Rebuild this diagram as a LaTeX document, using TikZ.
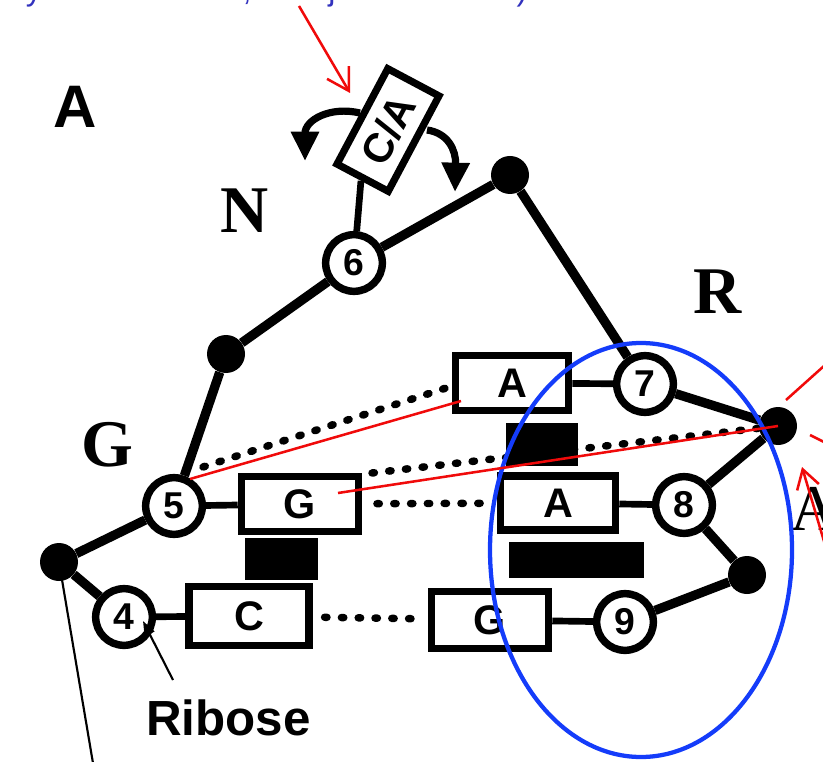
\documentclass[tikz,border=0pt]{standalone}
\usepackage{fontspec}
\setmainfont{Liberation Serif}
\setsansfont{Liberation Sans}
\usetikzlibrary{arrows.meta,calc}

\definecolor{annred}{RGB}{240,10,10}
\definecolor{annblue}{RGB}{20,60,250}
\definecolor{captionblue}{RGB}{50,50,190}

\newcommand{\fsz}[1]{\fontsize{#1}{#1}\selectfont}

\tikzset{
  backbone/.style={line width=7pt},
  linker/.style={line width=5pt},
  ribo/.style={circle, draw, line width=5.6pt, fill=white, minimum size=42.5pt,
    inner sep=0pt, font=\sffamily\bfseries\fsz{28}},
  junction/.style={circle, fill=black, minimum size=28.5pt, inner sep=0pt},
  basebox/.style={draw, line width=5.4pt, fill=white, inner sep=0pt,
    font=\sffamily\bfseries\fsz{31}},
  stackbar/.style={fill=black, inner sep=0pt, outer sep=0pt},
  hbond/.style={line width=5.6pt, line cap=round, dash pattern=on 1.8pt off 10.8pt},
  strandlabel/.style={font=\rmfamily\bfseries\fsz{50}, inner sep=0pt},
  curl/.style={line width=5.4pt, -{Triangle[length=22pt,width=20pt]}},
  redmark/.style={draw=annred, line width=1.9pt},
  bluemark/.style={draw=annblue, line width=3.2pt},
}

\begin{document}
\begin{tikzpicture}[x=0.75pt, y=-0.75pt]
  \useasboundingbox (0,0) rectangle (823,762);
  \clip (0,0) rectangle (823,762);

  % caption line above the panel (only its lower edge falls inside)
  \foreach \gx/\gch in {34/y, 247/{,}, 332/j, 522/)}
    \node[text=captionblue, font=\sffamily\fsz{24}, anchor=base, inner sep=0pt]
      at (\gx,1) {\gch};

  % panel letter
  \node[font=\sffamily\bfseries\fsz{45}, inner sep=0pt] (panel) at (75,107) {A};

  % junction phosphates
  \node[junction] (j1) at (59,562) {};
  \node[junction] (j2) at (226,354) {};
  \node[junction] (j3) at (510,175) {};
  \node[junction] (j4) at (778,426) {};
  \node[junction] (j5) at (747,575) {};

  % riboses
  \node[ribo] (c4) at (124,617) {4};
  \node[ribo] (c5) at (174,506) {5};
  \node[ribo] (c6) at (354,263) {6};
  \node[ribo] (c7) at (645,384) {7};
  \node[ribo] (c8) at (684,505) {8};
  \node[ribo] (c9) at (625,622) {9};

  % bases
  \node[basebox, minimum width=85pt, minimum height=41.5pt] (Atop) at (512,383) {A};
  \node[basebox, minimum width=86.5pt, minimum height=40.5pt] (Amid) at (558,503) {A};
  \node[basebox, minimum width=88pt, minimum height=43pt] (Gr) at (490,620) {G};
  \node[basebox, minimum width=88pt, minimum height=41pt] (Gl) at (300,504) {G};
  \node[basebox, minimum width=90pt, minimum height=44.5pt] (Cb) at (249,616) {C};
  \node[basebox, minimum width=81pt, minimum height=43.5pt, rotate=62] (CA)
    at (388,130) {C/A};

  % sugar-phosphate backbone
  \draw[backbone] (j1) -- (c5) -- (j2) -- (c6) -- (j3) -- (c7) -- (j4)
    -- (c8) -- (j5) -- (c9);
  \draw[backbone] (j1) -- (c4);

  % glycosidic links
  \draw[linker] (c4) -- (Cb);
  \draw[linker] (c5) -- (Gl);
  \draw[linker] (Atop) -- (c7);
  \draw[linker] (Amid) -- (c8);
  \draw[linker] (Gr) -- (c9);
  \draw[linker] (CA.west) -- (c6);

  % flipping base
  \coordinate (flipL) at (360,113);
  \coordinate (flipLend) at (305,161);
  \coordinate (flipR) at (427,130);
  \coordinate (flipRend) at (455,192);
  \draw[curl] (flipL) .. controls (330,106) and (305,120) .. (flipLend);
  \draw[curl] (flipR) .. controls (448,133) and (456,150) .. (flipRend);

  % hydrogen bonds
  \coordinate (h1a) at (203,467);
  \coordinate (h1b) at (446,388);
  \coordinate (h2a) at (372,473);
  \draw[hbond] (h1a) -- (h1b);
  \draw[hbond] (h2a) -- (j4);
  \draw[hbond, shorten <=11pt, shorten >=10pt] (Gl) -- (Amid);
  \draw[hbond, shorten <=9pt, shorten >=9pt] (Cb) -- (Gr);

  % stacking bars
  \node[stackbar, minimum width=54pt, minimum height=32.25pt] (bar1) at (542,444.5) {};
  \node[stackbar, minimum width=101.25pt, minimum height=27pt] (bar2) at (576.5,560) {};
  \node[stackbar, minimum width=54.75pt, minimum height=31.5pt] (bar3) at (281.5,559) {};

  % strand letters
  \node[strandlabel] (lN) at (245,211) {N};
  \node[strandlabel] (lR) at (718,292) {R};
  \node[strandlabel] (lG) at (107,445) {G};
  \node[font=\rmfamily\fsz{49}, inner sep=0pt, anchor=base west] (lA) at (790,530) {A};

  % ribose pointer
  \node[font=\sffamily\bfseries\fsz{37}, inner sep=0pt, anchor=base west] (rib)
    at (146,735) {Ribose};
  \coordinate (ribtail) at (173,680);
  \coordinate (ribtip) at (143,621);
  \draw[line width=1.6pt, -{Triangle[length=11pt,width=8pt]}] (ribtail) -- (ribtip);
  \coordinate (tailend) at (95,775);
  \draw[line width=1.6pt] (j1.center) -- (tailend);

  % highlighted region
  \draw[bluemark] (641,550) ellipse [x radius=151, y radius=207];

  % red annotations
  \coordinate (r1a) at (190,479);
  \coordinate (r1b) at (461,401);
  \coordinate (r2a) at (338,493);
  \draw[redmark] (r1a) -- (r1b);
  \draw[redmark] (r2a) -- (j4.center);
  \coordinate (r3a) at (786,400);
  \coordinate (r3b) at (834,357);
  \coordinate (r4a) at (810,435);
  \coordinate (r4b) at (834,447);
  \draw[redmark] (r3a) -- (r3b);
  \draw[redmark] (r4a) -- (r4b);
  \coordinate (r5a) at (834,575);
  \coordinate (r5b) at (802,467);
  \draw[redmark, -{Straight Barb[length=14pt,width=17pt]}] (r5a) -- (r5b);
  \coordinate (r6a) at (299,6);
  \coordinate (r6b) at (350,93);
  \draw[redmark, -{Straight Barb[length=16pt,width=19pt]}] (r6a) -- (r6b);
\end{tikzpicture}
\end{document}
